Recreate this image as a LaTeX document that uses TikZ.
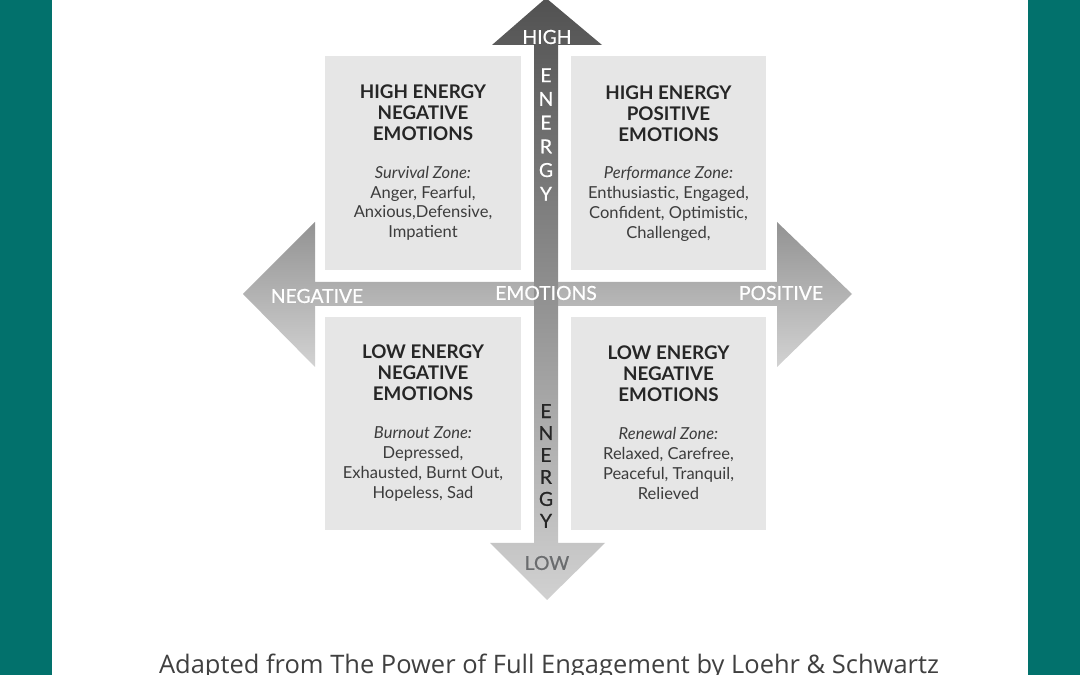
\documentclass[tikz,border=0pt]{standalone}
\usepackage{fontspec}
\setmainfont{Lato}
\newfontfamily\captionfont{Open Sans}
\newfontfamily\axisfont[FakeBold=0.6]{Lato}
\usetikzlibrary{positioning}

\definecolor{bandteal}{HTML}{02716C}
\definecolor{boxgray}{HTML}{E6E6E6}
\definecolor{textdark}{HTML}{262626}
\definecolor{lowgray}{HTML}{6A6C6E}

\begin{document}
\begin{tikzpicture}[x=0.02cm,y=-0.02cm,
    quad/.style={fill=boxgray, minimum width=3.92cm, minimum height=4.28cm, inner sep=0pt},
    quadtitle/.style={anchor=north, align=center, inner sep=0pt, text=textdark,
        font=\fontsize{10.7}{11.9}\selectfont\bfseries},
    quadbody/.style={below=0.5cm of #1, align=center, inner sep=0pt, text=textdark!90,
        font=\fontsize{9.4}{11.34}\selectfont},
    axislabel/.style={inner sep=0pt, font=\axisfont\fontsize{11}{13}\selectfont},
    letters/.style={axislabel, align=center}]

    % Fondo y bandas
    \useasboundingbox (0,0) rectangle (1080,675);
    \clip (0,0) rectangle (1080,675);
    \fill[white] (0,0) rectangle (1080,675);
    \fill[bandteal] (0,0) rectangle (52,675);
    \fill[bandteal] (1028,0) rectangle (1080,675);

    % Flecha horizontal
    \shade[top color=gray!85!white, bottom color=gray!35!white]
        (243,294) -- (315,222) -- (315,282) -- (777,282) -- (777,222) -- (852,294)
        -- (777,367) -- (777,306) -- (315,306) -- (315,367) -- cycle;

    % Flecha vertical
    \shade[top color=black!68, middle color=black!37, bottom color=black!18]
        (546,-2) -- (602,45) -- (558,45) -- (558,543) -- (605,543) -- (547,600)
        -- (490,543) -- (534,543) -- (534,45) -- (492,45) -- cycle;

    % Cuadrantes
    \node[quad] (hineg) at (423,163) {};
    \node[quad] (hipos) at (668.5,163) {};
    \node[quad] (loneg) at (423,423.5) {};
    \node[quad] (lopos) at (668.5,423.5) {};

    % Textos de los cuadrantes
    \node[quadtitle] (hinegt) at ([yshift=-0.57cm]hineg.north) {HIGH ENERGY\\NEGATIVE\\EMOTIONS};
    \node[quadbody=hinegt] (hinegb) {\textit{Survival Zone:}\\Anger, Fearful,\\Anxious,Defensive,\\Impatient};

    \node[quadtitle] (hipost) at ([yshift=-0.59cm]hipos.north) {HIGH ENERGY\\POSITIVE\\EMOTIONS};
    \node[quadbody=hipost] (hiposb) {\textit{Performance Zone:}\\Enthusiastic, Engaged,\\Confident, Optimistic,\\Challenged,};

    \node[quadtitle] (lonegt) at ([yshift=-0.57cm]loneg.north) {LOW ENERGY\\NEGATIVE\\EMOTIONS};
    \node[quadbody=lonegt] (lonegb) {\textit{Burnout Zone:}\\Depressed,\\Exhausted, Burnt Out,\\Hopeless, Sad};

    \node[quadtitle] (lopost) at ([yshift=-0.59cm]lopos.north) {LOW ENERGY\\NEGATIVE\\EMOTIONS};
    \node[quadbody=lopost] (loposb) {\textit{Renewal Zone:}\\Relaxed, Carefree,\\Peaceful, Tranquil,\\Relieved};

    % Etiquetas de los ejes
    \node[axislabel, text=white] (high) at (547,37) {HIGH};
    \node[letters, text=white, font=\axisfont\fontsize{11}{13.5}\selectfont] (energyup) at (546,134.5) {E\\N\\E\\R\\G\\Y};
    \node[letters, text=textdark, font=\axisfont\fontsize{11}{12.5}\selectfont] (energylo) at (546,466) {E\\N\\E\\R\\G\\Y};
    \node[axislabel, text=lowgray] (low) at (547,563) {LOW};
    \node[axislabel, text=white] (emotions) at (546,293) {EMOTIONS};
    \node[axislabel, text=white] (negative) at (317,296) {NEGATIVE};
    \node[axislabel, text=white] (positive) at (781,293) {POSITIVE};

    % Pie
    \node[anchor=base, inner sep=0pt, text=black!75, font=\captionfont\fontsize{14.5}{17}\selectfont]
        (source) at (549,674) {Adapted from The Power of Full Engagement by Loehr \& Schwartz};
\end{tikzpicture}
\end{document}
